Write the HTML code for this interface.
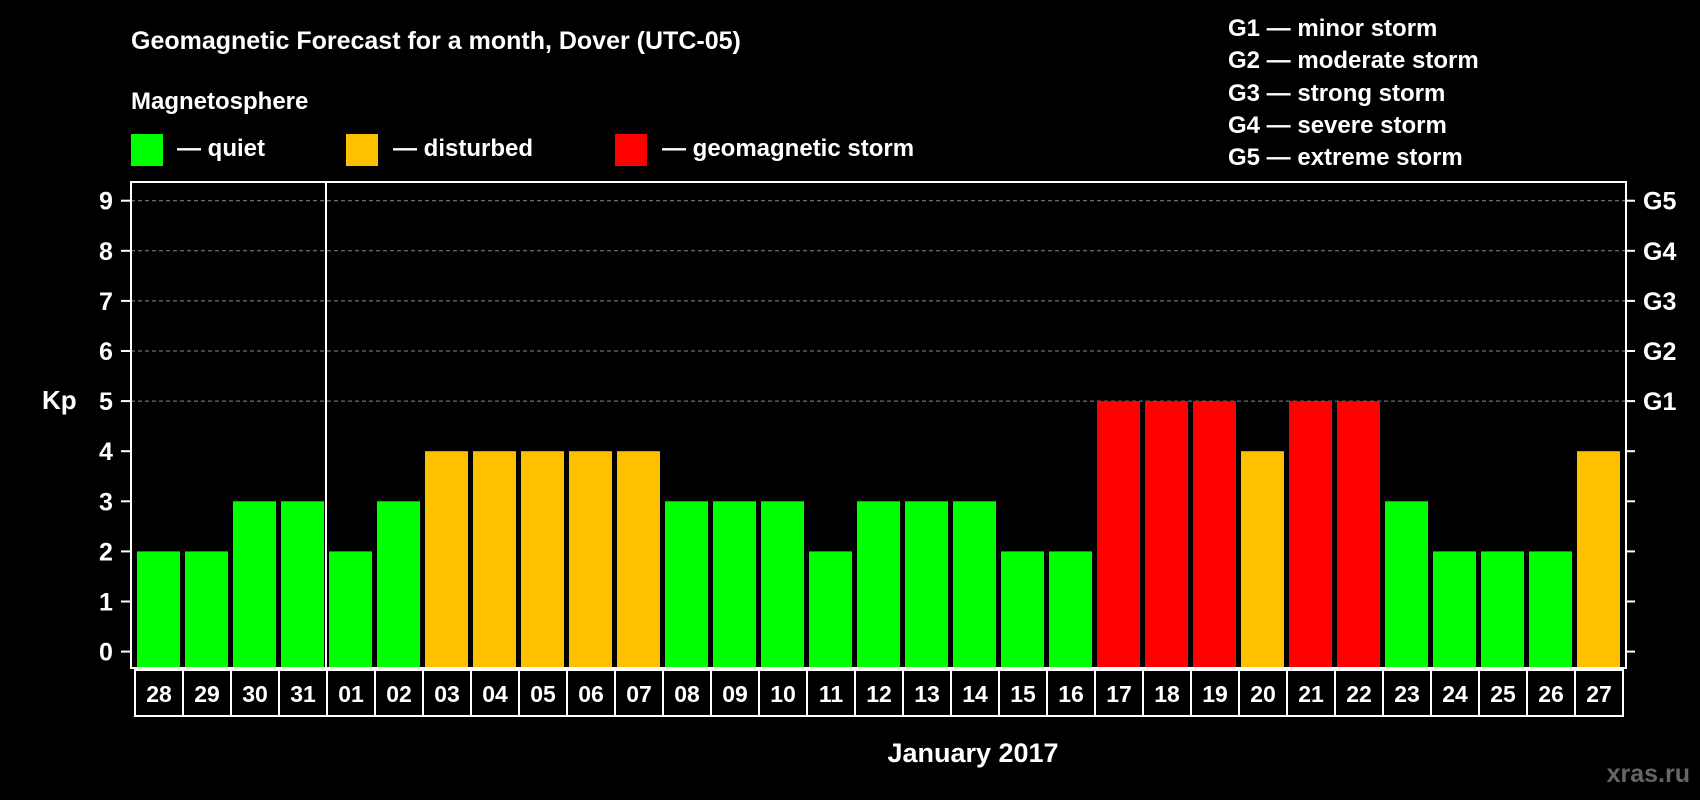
<!DOCTYPE html>
<html><head><meta charset="utf-8"><style>
html,body{margin:0;padding:0;background:#000;}
svg{display:block;font-family:"Liberation Sans",Arial,sans-serif;font-weight:bold;}
</style></head><body>
<svg id="chart" width="1700" height="800" viewBox="0 0 1700 800" xmlns="http://www.w3.org/2000/svg">
<rect x="0" y="0" width="1700" height="800" fill="#000"/>
<text x="131" y="49" fill="#fff" font-size="25">Geomagnetic Forecast for a month, Dover (UTC-05)</text>
<text x="131" y="109" fill="#fff" font-size="24">Magnetosphere</text>
<rect x="131" y="134" width="32" height="32" fill="#00ff00"/>
<text x="177" y="156" fill="#fff" font-size="24">— quiet</text>
<rect x="346" y="134" width="32" height="32" fill="#ffc000"/>
<text x="393" y="156" fill="#fff" font-size="24">— disturbed</text>
<rect x="615" y="134" width="32" height="32" fill="#ff0000"/>
<text x="662" y="156" fill="#fff" font-size="24">— geomagnetic storm</text>
<g fill="#fff" font-size="24">
<text x="1228" y="36">G1 — minor storm</text>
<text x="1228" y="68">G2 — moderate storm</text>
<text x="1228" y="101">G3 — strong storm</text>
<text x="1228" y="133">G4 — severe storm</text>
<text x="1228" y="165">G5 — extreme storm</text>
</g>
<text x="42" y="409" fill="#fff" font-size="26">Kp</text>
<text x="973" y="762" fill="#fff" font-size="27" text-anchor="middle">January 2017</text>
<text x="1690" y="782" fill="#666" font-size="25" text-anchor="end">xras.ru</text>
<g id="grid"></g><g id="bars"></g><g id="axes"></g>
</svg>
<script>
const categories=["28","29","30","31","01","02","03","04","05","06","07","08","09","10","11","12","13","14","15","16","17","18","19","20","21","22","23","24","25","26","27"];
const kpValues=[2,2,3,3,2,3,4,4,4,4,4,3,3,3,2,3,3,3,2,2,5,5,5,4,5,5,3,2,2,2,4];
const yTicks=[0,1,2,3,4,5,6,7,8,9];
const gLabels=["G1","G2","G3","G4","G5"];
const gLevels=[5,6,7,8,9];
const NS="http://www.w3.org/2000/svg";
const L=131,R=1626,T=182,B=668,Y0=651.6,UNIT=50.1,X0=135,PITCH=48,BW=43;
const y=v=>Y0-v*UNIT;
const x=i=>X0+i*PITCH;
function mk(tag,attrs,parent){const e=document.createElementNS(NS,tag);for(const k in attrs)e.setAttribute(k,attrs[k]);parent.appendChild(e);return e;}
const grid=document.getElementById('grid'),bars=document.getElementById('bars'),axes=document.getElementById('axes');
gLevels.forEach(v=>{const l=mk('line',{x1:L,x2:R,y1:y(v),y2:y(v),stroke:'#888','stroke-width':1,'stroke-dasharray':'4,3'},grid);

});
kpValues.forEach((v,i)=>{const c=v>=5?'#ff0000':(v>=4?'#ffc000':'#00ff00');
const r=mk('rect',{x:x(i)+2,y:y(v),width:BW,height:B-y(v),fill:c},bars);


const bx=mk('rect',{x:x(i),y:670,width:PITCH,height:46,fill:'none',stroke:'#fff','stroke-width':2},axes);


const t=mk('text',{x:x(i)+PITCH/2,y:702,fill:'#fff','font-size':23,'text-anchor':'middle'},axes);t.textContent=categories[i];

});
const frame=mk('rect',{x:L,y:T,width:R-L,height:B-T,fill:'none',stroke:'#fff','stroke-width':2},axes);


const sep=mk('line',{x1:x(4)-1,x2:x(4)-1,y1:T,y2:B,stroke:'#fff','stroke-width':2},axes);


yTicks.forEach(v=>{mk('line',{x1:L-10,x2:L,y1:y(v),y2:y(v),stroke:'#fff','stroke-width':2},axes);
mk('line',{x1:R,x2:R+9,y1:y(v),y2:y(v),stroke:'#fff','stroke-width':2},axes);
const t=mk('text',{x:106,y:y(v)+9,fill:'#fff','font-size':25,'text-anchor':'middle'},axes);t.textContent=v;

});
gLevels.forEach((v,i)=>{const t=mk('text',{x:1643,y:y(v)+9,fill:'#fff','font-size':25},axes);t.textContent=gLabels[i];

});
</script>
</body></html>
